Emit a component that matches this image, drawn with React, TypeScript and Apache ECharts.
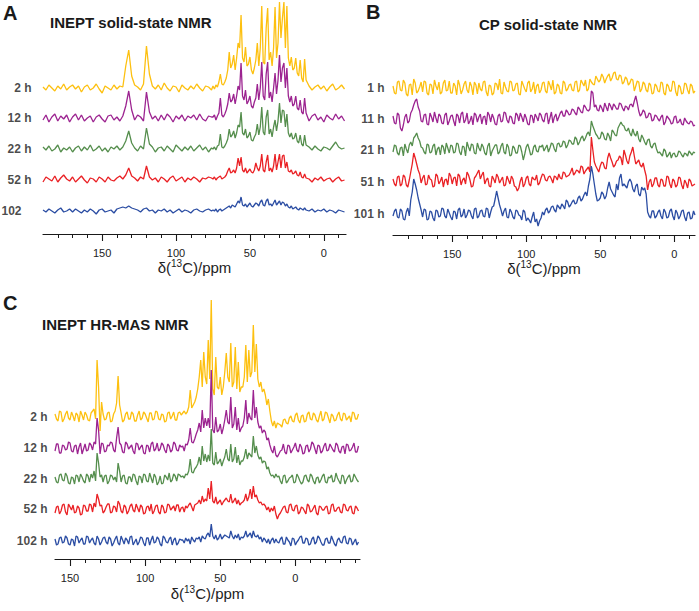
import React, { useEffect, useRef } from "react";
import * as echarts from "echarts";

// ppm sampling of each panel: [from, to, step]
const A_SEGMENTS: number[][] = [[190, 76, 2], [75, 12, 1], [10, -14, 2]];
const B_SEGMENTS: number[][] = [[190, -14, 2]];
const B_EXTRA_SEGMENTS: number[][] = [[189, -13, 2]];
const C_SEGMENTS: number[][] = [[160, 76, 2], [75, 12, 1], [10, -42, 2]];
const C_EXTRA_SEGMENTS: number[][] = [[159, 77, 2], [11, -41, 2]];

const A_LABELS = ["2 h", "12 h", "22 h", "52 h", "102"];
const B_LABELS = ["1 h", "11 h", "21 h", "51 h", "101 h"];
const C_LABELS = ["2 h", "12 h", "22 h", "52 h", "102 h"];

const MAJOR_TICKS = [150, 100, 50, 0];
const AB_MINOR_TICKS = [180, 170, 160, 150, 140, 130, 120, 110, 100, 90, 80, 70, 60, 50, 40, 30, 20, 10, 0, -10];
const C_MINOR_TICKS = [150, 140, 130, 120, 110, 100, 90, 80, 70, 60, 50, 40, 30, 20, 10, 0, -10, -20, -30, -40];

// Panel A: INEPT solid-state NMR (intensity, arbitrary units)
const A_2H = [
  1, -2, 3, 0, -3, 2, -1, 4, -2, 1,
  3, -1, 2, -4, 1, 3, -2, 0, 4, -1,
  -5, 2, 0, -2, 3, -1, 2, 1, 22, 38,
  12, 3, 1, -2, 4, 42, 14, 2, -1, 3,
  -2, 5, 0, -3, 2, 1, -4, 3, 0, -2,
  2, -1, 4, 0, -3, 2, 1, -2,
  2, -1, 3, 1, 6, 14, 4, 3, 6, 10,
  18, 36, 20, 24, 33, 18, 30, 45, 40, 73,
  30, 26, 41, 22, 24, 31, 18, 14, 20, 28,
  45, 22, 40, 82, 26, 24, 60, 80, 28, 36,
  22, 40, 81, 30, 45, 86, 50, 70, 86, 40,
  82, 30, 22, 31, 18, 20, 30, 15, 12, 28,
  10, 6, 29, 8,
  2, -2, 1, 3, -1, 2, -3, 1, 4, -2, 0, 3, -1,
];
const A_12H = [
  -2, 3, -4, 1, 4, -3, 2, -1, 3, -4,
  1, 4, -2, 3, -3, 0, 2, -4, 1, 3,
  -1, -4, 2, 3, -2, 1, -3, 2, 12, 27,
  8, -2, 3, 1, -3, 26, 6, -1, 2, -3,
  3, -2, 4, 1, -4, 2, -1, 3, -3, 2,
  0, 3, -2, 4, -1, -3, 2, 1,
  1, 3, -2, 2, 5, 20, 3, 1, 4, 8,
  14, 25, 16, 18, 24, 14, 22, 32, 28, 55,
  22, 18, 28, 14, 17, 22, 12, 10, 16, 20,
  34, 18, 30, 56, 22, 18, 44, 56, 20, 26,
  16, 30, 45, 24, 38, 63, 36, 50, 55, 30,
  50, 22, 16, 22, 12, 14, 22, 10, 8, 18,
  6, 4, 20, 5,
  -3, 2, 4, -2, 1, -4, 3, 0, -2, 4, -1, 2, -3,
];
const A_22H = [
  2, -1, 3, -2, 0, 4, -3, 1, -1, 2,
  -3, 1, 3, -2, 2, -1, 4, -2, 0, 3,
  -2, 1, -3, 2, 0, 3, -1, 2, 8, 18,
  6, 1, -2, 3, 0, 21, 5, 2, -3, 1,
  2, -2, 3, 0, -3, 4, 1, -2, 2, -1,
  3, -2, 1, 4, -1, 2, -3, 1,
  0, 2, -1, 3, 4, 15, 2, 1, 3, 6,
  10, 20, 12, 14, 18, 11, 16, 24, 22, 37,
  16, 14, 20, 11, 13, 17, 9, 8, 12, 15,
  25, 14, 22, 42, 17, 14, 32, 39, 15, 20,
  12, 22, 29, 18, 28, 46, 26, 39, 38, 22,
  35, 16, 12, 16, 10, 11, 16, 8, 6, 14,
  5, 3, 14, 4,
  2, -1, 3, 0, -2, 2, 1, -1, 3, 7, 2, 0, 1,
];
const A_52H = [
  -2, 3, 1, -1, 4, -2, 2, 5, 1, -1,
  3, -2, 1, 4, 0, -3, 2, 1, -2, 3,
  1, -2, 3, 0, -1, 2, 4, 1, 5, 12,
  4, 2, -1, 3, 1, 14, 3, 0, 2, -2,
  3, 1, -2, 2, 4, -1, 1, 3, -2, 2,
  0, 3, 1, -2, 2, 1, 3, 2,
  1, 3, 0, 2, 3, 4, 1, 2, 3, 5,
  9, 12, 7, 8, 10, 7, 12, 22, 14, 23,
  10, 8, 12, 7, 9, 11, 8, 7, 10, 17,
  12, 9, 14, 26, 10, 8, 18, 25, 9, 12,
  8, 14, 26, 10, 18, 26, 12, 24, 25, 12,
  18, 9, 8, 10, 6, 7, 9, 5, 4, 8,
  3, 2, 6, 2,
  1, -2, 2, 0, 3, -1, 1, 2, -2, 1, 3, -1, 0,
];
const A_102 = [
  1, -1, 2, 0, -2, 1, 3, -1, 0, 2,
  -1, 2, 0, -2, 1, -1, 2, 0, -3, 1,
  2, -1, 0, 1, -2, 2, 3, 4, 3, 5,
  3, 2, 1, -1, 2, 3, 0, 1, -2, 1,
  0, 2, -1, 1, -2, 0, 2, -1, 1, 0,
  -2, 1, 2, 0, -1, 1, 2, 0,
  1, 0, 2, -1, 1, 2, 0, 1, 2, 3,
  4, 5, 3, 6, 5, 4, 7, 10, 8, 14,
  6, 5, 7, 4, 6, 8, 5, 4, 6, 8,
  7, 5, 9, 11, 6, 5, 10, 12, 6, 7,
  5, 8, 11, 6, 8, 10, 6, 9, 8, 5,
  7, 4, 3, 5, 2, 3, 4, 2, 1, 3,
  2, 1, 3, 1,
  0, 2, -1, 1, 0, 2, -1, 1, 0, -2, 1, 0, -1,
];

// Panel B: CP solid-state NMR (even ppm samples)
const B_1H = [
  2, -6, 7, -3, 5, -8, 4, 9, -5, 1,
  -4, 6, -7, 3, 8, -2, -6, 5, -3, 7,
  -5, 2, 8, -6, 4, -2, 6, -7, 3, 5,
  -3, 7, -8, 2, -5, 4, 9, -6, 1, -4,
  6, -2, 5, -7, 3, -4, 7, -1, -6, 4,
  -2, 6, -5, 3, 8, -4, 2, -6, 5, -1,
  4, -3, 7, -2, 5, 8, -1, 6, 3, 9,
  8, 11, 9, 14, 10, 16, 8, 12, 6, 9,
  5, 8, 2, 6, -1, 4, -4, 3, -5, 2,
  -4, 5, -7, 2, -3, 6, -8, 1, -5, 4,
  -6, 2, -3,
];
const B_11H = [
  3, -5, 4, -12, 2, -4, 6, 14, 20, 8,
  -3, 5, -6, 2, 7, -4, 3, -5, 6, -2,
  4, -7, 3, 5, -4, 6, -2, -6, 4, 2,
  -5, 3, 7, -3, 1, -6, 5, -2, 6, -4,
  2, -5, 4, 6, -3, 1, -6, 3, 5, -2,
  4, -3, 6, 1, -4, 5, 2, 8, 3, 7,
  5, 9, 4, 10, 6, 12, 8, 28, 12, 9,
  14, 7, 12, 16, 9, 13, 10, 15, 8, 12,
  14, 12, 23, 8, 5, 7, 2, 5, -1, 3,
  -2, 4, -3, 1, -5, 2, -4, 0, -6, -2,
  -5, -3, -6,
];
const B_21H = [
  -2, 4, -5, 3, 6, -3, 8, 12, 17, 9,
  2, -4, 5, -2, 6, 1, -5, 3, 7, -3,
  4, -2, 6, -5, 3, 8, -1, 5, -4, 2,
  6, -3, 4, -6, 2, 5, -2, 7, -4, 3,
  -5, 2, -3, 4, -10, 3, 1, -4, 5, -2,
  3, -1, 5, 2, 6, -2, 7, 4, 8, 5,
  9, 6, 11, 8, 14, 12, 18, 29, 20, 14,
  12, 16, 10, 14, 20, 15, 22, 28, 24, 19,
  17, 21, 14, 11, 15, 8, 10, 4, 6, 1,
  -2, -6, -1, -5, -8, -3, -6, -2, -7, -4,
  -1, -5, -3,
];
const B_51H = [
  3, -4, 6, -2, 5, -5, 10, 29, 18, 8,
  4, -3, 7, 2, -4, 6, 1, -5, 3, 9,
  -2, 5, 8, -3, 4, 10, 2, -4, 6, 12,
  7, -2, 4, -5, 3, 8, -1, 5, -3, 2,
  6, -4, -9, 1, -5, 4, -2, 5, 2, -3,
  4, 7, 1, 6, -1, 5, 8, 3, 9, 6,
  10, 7, 12, 9, 15, 11, 15, 45, 20, 13,
  16, 19, 13, 29, 20, 17, 22, 24, 32, 21,
  26, 35, 18, 22, 15, 12, -8, 3, -2, 4,
  -5, 2, -4, 5, -6, 1, -3, 4, -7, -1,
  3, -4, -2,
];
const B_101H = [
  -2, 5, -4, 3, -6, 6, 14, 35, 24, 10,
  -3, 4, -5, 2, -7, 3, -2, 5, -4, 1,
  -6, 2, 4, -3, 5, -1, 3, -5, 6, -2,
  4, -3, 5, 2, 8, 23, 9, -2, 6, -4,
  2, -5, 3, -2, 4, -7, -6, -3, -8, -12,
  -4, -1, 6, 3, 8, 2, 7, 10, 5, 12,
  9, 14, 11, 18, 15, 22, 28, 48, 30, 13,
  16, 20, 18, 32, 22, 17, 24, 40, 30, 26,
  35, 25, 28, 20, 27, 26, 2, -4, 3, -2,
  4, -5, 2, -3, 5, -6, 1, -2, 4, -7,
  2, -4, -1,
];
// Panel B: odd ppm samples (189 ... -13)
const B_1H_X = [
  -5, 6, -2, 8, -6, 3, -7, 5, -3, 6,
  7, -5, 4, -6, 2, 6, -4, 8, -2, -5,
  5, -7, 3, -2, 7, -5, 2, 6, -6, -1,
  6, -4, 3, -7, 5, -2, -5, 6, -3, 7,
  -3, 4, -6, 7, -1, 5, -4, 6, 2, -5,
  5, -3, 7, -2, -6, 4, -5, 7, -3, 3,
  -2, 6, -4, 8, 2, -3, 9, 4, 12, 6,
  14, 5, 12, 7, 15, 9, 13, 4, 11, 3,
  9, -3, 7, -4, 6, -2, 5, -6, 4, -3,
  6, -5, 4, -3, 7, -4, 3, -6, 5, -2,
  4, -5,
];
const B_11H_X = [
  -4, 6, -9, -6, 5, -2, 9, 18, 12, -2,
  4, -5, 6, -3, 1, 5, -4, 4, -6, 3,
  -2, 5, -4, 7, -1, -5, 3, 6, -3, 5,
  2, -6, 4, 5, -5, 3, -3, 7, -1, 3,
  -4, 6, -2, 2, 5, -5, 4, -4, 2, 6,
  -1, 5, -5, 7, 2, -2, 6, 3, 9, 4,
  10, 6, 12, 7, 14, 9, 10, 26, 14, 8,
  11, 16, 8, 13, 15, 10, 16, 11, 13, 9,
  15, 18, 16, 3, 9, 1, 6, -2, 4, 0,
  2, -6, 3, -1, -4, 3, -3, -5, 1, -4,
  -2, -7,
];
const B_21H_X = [
  5, -3, 2, -6, 1, 5, 4, 14, 12, 3,
  -2, 6, -3, 4, -5, 3, 5, -4, 2, 5,
  -3, 7, -2, 4, -6, 3, 6, -3, 7, -1,
  3, -5, 7, -1, 5, -4, 4, -2, 6, -6,
  4, -3, 5, -2, -4, 6, -5, 3, -1, 4,
  5, 2, -2, 7, 1, 6, 3, 9, 2, 10,
  6, 13, 5, 12, 9, 16, 14, 24, 16, 11,
  18, 11, 17, 9, 18, 14, 25, 25, 20, 22,
  14, 16, 19, 8, 12, 5, 11, 2, 7, -3,
  -4, 1, -7, -2, -4, -7, -1, -5, -3, -6,
  -3, -2,
];
const B_51H_X = [
  -2, 5, -4, 7, -3, 2, 18, 24, 12, -1,
  7, -2, 3, -5, 8, -2, 5, 2, -3, 6,
  4, -4, 6, 2, -2, 7, -5, 4, 9, 3,
  10, 2, -4, 6, -1, 5, 2, -4, 6, -2,
  3, -5, -6, 5, -2, 6, -4, 3, 7, -1,
  8, 2, 5, 3, 6, 2, 4, 10, 5, 7,
  14, 9, 11, 16, 8, 13, 10, 32, 16, 10,
  20, 14, 24, 24, 15, 21, 26, 17, 27, 18,
  30, 26, 20, 17, 19, 6, 0, -5, 4, -3,
  3, -4, 6, -2, 3, -5, 5, -3, 2, -6,
  1, -3,
];
const B_101H_X = [
  3, -3, 5, -5, 2, -2, 22, 30, 16, 4,
  5, -6, 3, -4, 4, -3, 6, -2, 5, -3,
  3, -5, 6, -1, -4, 4, -2, 5, -4, 3,
  -2, 6, -4, 7, 15, 16, 4, 3, -3, 5,
  -3, 4, -1, -6, 2, -4, -9, 2, -5, -7,
  2, 4, 1, 7, 4, 9, 5, 8, 14, 7,
  12, 10, 16, 13, 19, 18, 35, 40, 20, 14,
  22, 15, 26, 25, 19, 30, 36, 28, 28, 32,
  32, 22, 30, 18, 24, 20, -2, 3, -4, 2,
  -2, 5, -4, 3, -2, 4, -5, 3, -3, 1,
  -5, 3,
];

// Panel C: INEPT HR-MAS NMR
const C_2H = [
  3, -4, 5, -2, 6, -3, 1, 4, -5, 2,
  5, -3, 4, 8, 57, -14, 3, -2, 5, -4,
  6, 41, 4, -3, 5, -2, 3, -4, 6, -1,
  3, -5, 4, -2, 5, -3, 2, -4, 5, 1,
  -3, 4, 2,
  4, 6, 3, 5, 10, 27, 9, 12, 15, 20,
  28, 40, 57, 30, 65, 40, 33, 77, 38, 117,
  28, 22, 60, 30, 28, 40, 22, 30, 45, 64,
  40, 35, 74, 30, 35, 70, 28, 55, 25, 30,
  30, 40, 72, 35, 67, 40, 45, 92, 45, 73,
  38, 30, 35, 25, 28, 22, 12, 18, 6, -4,
  -9, -4, -11, -6,
  -8, -3, -6, -1, -4, 2, -3, 1, -5, 3,
  -2, 4, -3, 1, -4, 5, -1, 3, -4, 2,
  -2, 4, -3, 1, 5, -2, 3,
];
const C_12H = [
  -3, 4, -5, 2, -1, 5, -4, 3, 1, -6,
  4, -2, 3, 6, 30, -6, 4, -3, 2, 5,
  -4, 21, 3, -5, 4, 1, -3, 5, -2, 3,
  -6, 2, 4, -3, 5, -1, 3, -5, 2, -2,
  4, -3, 1,
  2, -3, 4, 3, 8, 20, 6, 5, 9, 14,
  18, 25, 16, 38, 20, 30, 22, 30, 20, 78,
  18, 15, 31, 16, 18, 24, 14, 20, 28, 38,
  26, 24, 51, 20, 24, 41, 18, 30, 16, 20,
  22, 30, 48, 24, 35, 30, 28, 58, 30, 41,
  26, 20, 22, 15, 18, 16, 8, 10, 3, -2,
  -5, 2, -7, -9,
  -3, 4, -6, 2, -2, 5, -4, 1, -5, 3,
  -1, 4, -6, 2, -3, 5, -2, 1, -4, 3,
  -5, 2, 4, -3, 1, -4, 2,
];
const C_22H = [
  2, -4, 5, -2, 3, -5, 1, 4, -3, 2,
  -4, 3, 5, 8, 26, 2, -3, 4, -2, 3,
  2, 16, -3, 4, -5, 2, 5, -2, 3, -4,
  4, -3, 1, 5, -6, 3, -4, 2, 6, -1,
  3, 5, 2,
  3, 1, 5, 4, 8, 20, 7, 6, 10, 12,
  15, 22, 14, 33, 18, 25, 17, 24, 18, 50,
  16, 14, 27, 15, 17, 20, 13, 18, 22, 30,
  20, 18, 35, 17, 20, 32, 16, 24, 14, 18,
  18, 22, 30, 20, 26, 24, 22, 43, 26, 33,
  24, 20, 22, 16, 18, 17, 10, 12, 6, 3,
  4, 1, 5, 2,
  -2, 3, -4, 1, 4, -3, 2, -5, 3, -1,
  5, -2, 1, -4, 3, -3, 2, 4, -2, 1,
  -5, 3, -1, 4, -2, 2, -3,
];
const C_52H = [
  -4, 3, -2, 5, -6, 2, 4, -3, 1, -5,
  3, -2, 4, 6, 15, 3, -4, 2, 5, -3,
  2, 8, -2, 4, -5, 3, -1, 5, -3, 2,
  -4, 3, 5, -2, 4, -5, 2, -3, 4, 1,
  -2, 4, 1,
  2, -3, 3, 1, 4, 6, 2, -2, 4, 5,
  6, 9, 5, 13, 7, 10, 8, 21, 10, 28,
  8, 6, 12, 5, 7, 9, 4, 7, 9, 11,
  8, 7, 15, 6, 8, 11, 5, 9, 4, 6,
  7, 9, 15, 8, 12, 20, 10, 23, 12, 14,
  9, 6, 7, 4, 5, 3, -1, 2, -3, 1,
  -2, 3, -5, -10,
  -4, 2, -3, 4, -1, 3, -5, 2, -2, 5,
  -3, 1, -4, 3, -1, 2, -5, 4, -2, 1,
  -3, 5, -1, 2, -4, 3, -2,
];
const C_102H = [
  2, -3, 4, -1, 3, -4, 1, 5, -2, 3,
  -3, 4, 1, -2, 5, -4, 3, -1, 4, -5,
  2, -2, 5, -3, 1, 4, -4, 2, -1, 3,
  -5, 3, 1, -2, 4, -3, 5, -1, 2, -4,
  3, -2, 1,
  1, -2, 3, 0, 2, -3, 4, 1, -1, 3,
  2, 4, -1, 5, 3, 2, 6, 8, 4, 17,
  5, 2, 6, 1, 3, 7, 2, 4, 6, 5,
  4, 3, 10, 5, 2, 6, 3, 7, 1, 4,
  3, 5, 10, 4, 6, 8, 3, 10, 5, 4,
  6, 2, 4, -1, 3, 1, -2, 2, -3, 1,
  3, -2, 2, -1,
  2, -3, 4, -1, 3, -4, 1, 5, -2, 2,
  -3, 4, -1, 3, -4, 2, -2, 5, -3, 1,
  -1, 4, -2, 3, -4, 2, -1,
];
// Panel C: odd ppm samples (159 ... 77, 11 ... -41)
const C_2H_X = [
  -2, 6, -5, 3, -1, 5, -4, 2, 6, -3,
  2, -4, 6, -2, 30, 15, -3, 4, -5, 3,
  14, 12, -5, 3, -2, 5, -4, 2, -3, 5,
  -1, 4, -3, 6, -2, 3, -5, 4, -2, 5,
  -3, 5,
  -7, -10, -2, -7, 1, -5, 4, -6, 2, -4,
  5, -3, 2, -5, 6, -2, 4, -6, 1, -3,
  5, -4, 3, -1, -5, 4, -2,
];
const C_12H_X = [
  4, -5, 3, -2, 6, -3, 2, -6, 5, -1,
  -3, 5, -2, 4, 18, 5, -4, 3, 6, -2,
  10, 5, -4, 6, -1, 3, -6, 4, 1, -5,
  3, -4, 6, -1, -3, 5, -2, 4, -4, 6,
  -2, 3,
  -6, -2, -4, 3, -5, 1, -2, 4, -6, 2,
  -4, 6, -1, 3, -5, 2, -3, 4, -2, 5,
  -3, 1, -6, 3, -2, 5, -4,
];
const C_22H_X = [
  -3, 4, -1, 6, -4, 2, -5, 3, 5, -2,
  5, -3, 1, -2, 16, 4, 3, -5, 4, -1,
  -3, 8, 3, -4, 2, -3, 4, -6, 2, 5,
  -2, 6, -4, 2, -3, -5, 4, -1, -3, 5,
  -2, 4,
  3, -5, 4, -2, 2, -4, 5, -2, -3, 4,
  -3, 3, -5, 2, -1, 5, -4, 1, -3, 6,
  -2, 4, -5, 2, -3, 5, -1,
];
const C_52H_X = [
  2, -5, 4, -3, 5, -1, -4, 3, -6, 4,
  -2, 5, -3, 2, 10, 4, -2, 5, -4, 3,
  -3, 5, -4, 2, -2, 5, -3, 1, 4, -5,
  2, -2, -5, 3, -3, 4, -4, 5, -1, 3,
  4, -3,
  -6, -1, 3, -4, 5, -2, 4, -3, 1, -5,
  3, -2, 4, -6, 2, -1, 3, -4, 5, -2,
  2, -4, 4, -2, 3, -5, 1,
];
const C_102H_X = [
  -4, 3, -2, 5, -3, 2, -5, 4, 1, -3,
  5, -2, 3, -4, 2, -1, 4, -3, 2, -2,
  5, -4, 1, 3, -3, 5, -1, -4, 4, -2,
  3, -4, 5, -1, 2, -5, 3, -2, 4, 1,
  -4, 2,
  -2, 4, -3, 1, -5, 2, -1, 4, -2, 3,
  -4, 2, -3, 5, -1, -4, 3, -2, 1, -5,
  3, -2, 5, -3, 2, -1, -4,
];

const COLORS = ["#FDC010", "#9C2390", "#558E4D", "#EA2125", "#2B4DA3"];
const FONT = "'Liberation Sans', Arial, Helvetica, sans-serif";
const INK = "#1a1a1a";

function ppmGrid(segments: number[][]): number[] {
  const out: number[] = [];
  segments.forEach(([from, to, step]) => {
    for (let p = from; p >= to - 1e-9; p -= step) out.push(Math.round(p * 100) / 100);
  });
  return out;
}

function samples(segs: number[][], vals: number[], extraSegs: number[][] | null, extraVals: number[] | null) {
  const pts: number[][] = ppmGrid(segs).map((x, i) => [x, vals[i]]);
  if (extraSegs && extraVals) ppmGrid(extraSegs).forEach((x, i) => pts.push([x, extraVals[i]]));
  pts.sort((a, b) => b[0] - a[0]);
  return pts;
}

const PANELS = [
  {
    segments: A_SEGMENTS, spectra: [A_2H, A_12H, A_22H, A_52H, A_102],
    extraSegments: null, extraSpectra: null, labels: A_LABELS,
    offsets: [146, 116, 85, 54, 23], min: -15, max: 190, minor: AB_MINOR_TICKS,
    grid: { left: 43, top: 0, width: 303, height: 234 }, labelDist: [11, 11, 11, 11, 21], nameGap: 19,
  },
  {
    segments: B_SEGMENTS, spectra: [B_1H, B_11H, B_21H, B_51H, B_101H],
    extraSegments: B_EXTRA_SEGMENTS, extraSpectra: [B_1H_X, B_11H_X, B_21H_X, B_51H_X, B_101H_X], labels: B_LABELS,
    offsets: [147, 116, 85, 53, 21], min: -14, max: 190, minor: AB_MINOR_TICKS,
    grid: { left: 393, top: 0, width: 302, height: 235 }, labelDist: [8, 8, 8, 8, 8], nameGap: 19,
  },
  {
    segments: C_SEGMENTS, spectra: [C_2H, C_12H, C_22H, C_52H, C_102H],
    extraSegments: C_EXTRA_SEGMENTS, extraSpectra: [C_2H_X, C_12H_X, C_22H_X, C_52H_X, C_102H_X], labels: C_LABELS,
    offsets: [142, 111, 80, 50, 18], min: -43, max: 160, minor: C_MINOR_TICKS,
    grid: { left: 55, top: 290, width: 305, height: 269 }, labelDist: [7, 7, 7, 7, 7], nameGap: 25,
  },
];

export default function App() {
  const ref = useRef<HTMLDivElement>(null);
  useEffect(() => {
    if (!ref.current) return;
    const chart = echarts.init(ref.current, undefined, { renderer: "svg" });
    const grids: any[] = [];
    const xAxes: any[] = [];
    const yAxes: any[] = [];
    const series: any[] = [];
    PANELS.forEach((p, pi) => {
      grids.push({ ...p.grid, containLabel: false });
      const axisBase = {
        gridIndex: pi, type: "value", min: p.min, max: p.max, inverse: true,
        splitLine: { show: false }, position: "bottom",
      };
      xAxes.push({
        ...axisBase,
        axisLine: { show: true, lineStyle: { color: INK, width: 1.2 } },
        axisTick: { show: true, length: 4, customValues: p.minor, lineStyle: { color: INK, width: 1 } },
        axisLabel: { show: false },
      });
      xAxes.push({
        ...axisBase,
        axisLine: { show: false },
        axisTick: { show: true, length: 7, customValues: MAJOR_TICKS, lineStyle: { color: INK, width: 1.1 } },
        axisLabel: { show: true, customValues: MAJOR_TICKS, fontSize: 11, color: "#222", margin: 13, fontFamily: FONT },
        name: "δ({sup|13}C)/ppm",
        nameLocation: "middle",
        nameGap: p.nameGap,
        nameTextStyle: {
          fontSize: 15, color: "#222", fontFamily: FONT, lineHeight: 18,
          rich: { sup: { fontSize: 10, color: "#222", fontFamily: FONT, verticalAlign: "top", lineHeight: 10 } },
        },
      });
      yAxes.push({ gridIndex: pi, type: "value", min: 0, max: p.grid.height, show: false });
      p.spectra.forEach((vals, j) => {
        const pts = samples(p.segments, vals, p.extraSegments, p.extraSpectra ? p.extraSpectra[j] : null);
        series.push({
          type: "line",
          xAxisIndex: 2 * pi,
          yAxisIndex: pi,
          symbol: "none",
          showSymbol: false,
          silent: true,
          z: 2 + j,
          lineStyle: { color: COLORS[j], width: 1.3 },
          data: pts.map(([x, v]) => [x, v + p.offsets[j]]),
        });
      });
      series.push({
        type: "scatter",
        xAxisIndex: 2 * pi,
        yAxisIndex: pi,
        symbolSize: 1,
        clip: false,
        silent: true,
        itemStyle: { color: "rgba(0,0,0,0)" },
        label: {
          show: true, position: "left", formatter: "{b}", fontSize: 12, fontWeight: "bold",
          color: INK, fontFamily: FONT,
        },
        data: p.labels.map((n, j) => ({
          name: n,
          value: [p.max, p.offsets[j]],
          label: { distance: p.labelDist[j] },
        })),
      });
    });

    const titleStyle = (size: number) => ({ fontSize: size, fontWeight: "bold", color: INK, fontFamily: FONT });
    chart.setOption({
      animation: false,
      backgroundColor: "#ffffff",
      title: [
        { text: "A", left: 3, top: 3, padding: 0, textStyle: titleStyle(20) },
        { text: "INEPT solid-state NMR", left: 50, top: 15, padding: 0, textStyle: titleStyle(15) },
        { text: "B", left: 366, top: 2, padding: 0, textStyle: titleStyle(20) },
        { text: "CP solid-state NMR", left: 479, top: 17, padding: 0, textStyle: titleStyle(15) },
        { text: "C", left: 3, top: 293, padding: 0, textStyle: titleStyle(20) },
        { text: "INEPT HR-MAS NMR", left: 42, top: 317, padding: 0, textStyle: titleStyle(15) },
      ],
      grid: grids,
      xAxis: xAxes,
      yAxis: yAxes,
      series,
    });
    return () => chart.dispose();
  }, []);
  return (
    <div
      ref={ref}
      style={{ position: "fixed", left: 0, top: 0, width: 699, height: 611, background: "#fff" }}
    />
  );
}
